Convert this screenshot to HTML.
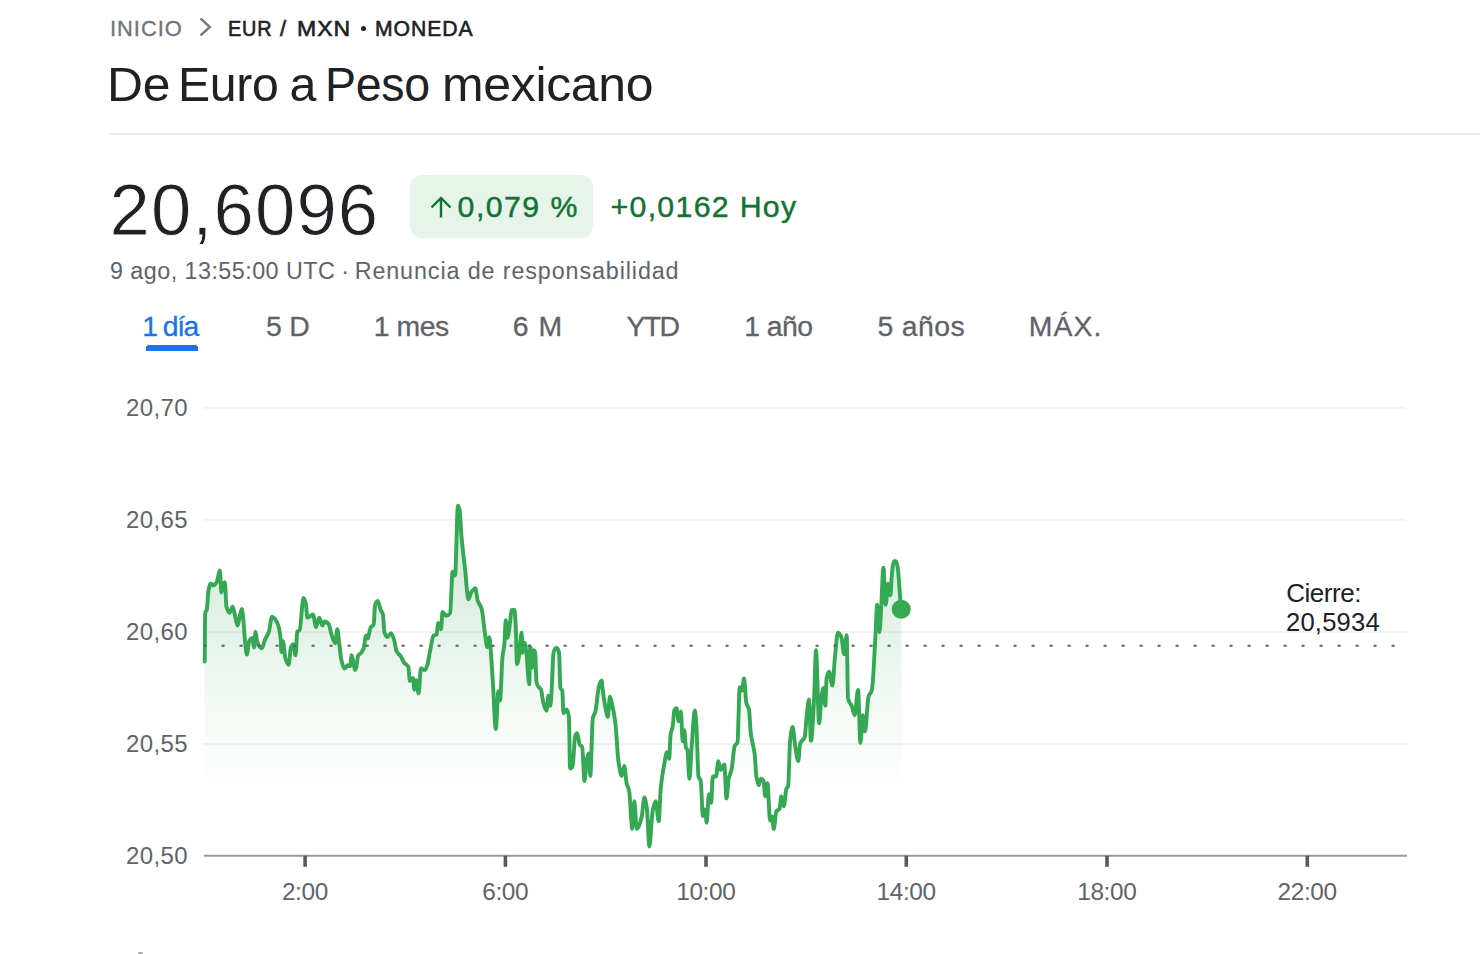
<!DOCTYPE html>
<html><head><meta charset="utf-8">
<style>
html,body{margin:0;padding:0;background:#fff;}
body{width:1480px;height:954px;position:relative;overflow:hidden;font-family:"Liberation Sans",sans-serif;}
.t{position:absolute;white-space:nowrap;line-height:1;}
</style></head><body>
<div class="t " style="left:109.5px;top:17.8px;font-size:21.8px;color:#70757a;letter-spacing:1.00px;-webkit-text-stroke:0.35px #70757a;transform:scaleX(1.0030);transform-origin:0 0;">INICIO</div>
<div class="t " style="left:228.2px;top:17.8px;font-size:21.8px;color:#202124;letter-spacing:1.00px;-webkit-text-stroke:0.6px #202124;transform:scaleX(0.9089);transform-origin:0 0;">EUR</div>
<div class="t " style="left:279.9px;top:17.8px;font-size:21.8px;color:#202124;letter-spacing:0.00px;-webkit-text-stroke:0.6px #202124;">/</div>
<div class="t " style="left:296.9px;top:17.8px;font-size:21.8px;color:#202124;letter-spacing:1.00px;-webkit-text-stroke:0.6px #202124;transform:scaleX(1.0542);transform-origin:0 0;">MXN</div>
<div class="t " style="left:374.5px;top:17.8px;font-size:21.8px;color:#202124;letter-spacing:1.00px;-webkit-text-stroke:0.6px #202124;transform:scaleX(0.9701);transform-origin:0 0;">MONEDA</div>
<div class="t " style="left:107.2px;top:59.9px;font-size:48.4px;color:#202124;letter-spacing:-0.30px;transform:scaleX(1.0291);transform-origin:0 0;">De</div>
<div class="t " style="left:178.4px;top:59.9px;font-size:48.4px;color:#202124;letter-spacing:-0.30px;transform:scaleX(0.9959);transform-origin:0 0;">Euro</div>
<div class="t " style="left:289.4px;top:59.9px;font-size:48.4px;color:#202124;letter-spacing:0.00px;">a</div>
<div class="t " style="left:325.2px;top:59.9px;font-size:48.4px;color:#202124;letter-spacing:-0.30px;transform:scaleX(0.9612);transform-origin:0 0;">Peso</div>
<div class="t " style="left:441.9px;top:59.9px;font-size:48.4px;color:#202124;letter-spacing:-0.30px;transform:scaleX(1.0320);transform-origin:0 0;">mexicano</div>
<div class="t " style="left:142.2px;top:311.8px;font-size:28.4px;color:#1a73e8;letter-spacing:-1.50px;-webkit-text-stroke:0.3px #1a73e8;">1 día</div>
<div class="t " style="left:265.9px;top:311.8px;font-size:28.4px;color:#5f6368;letter-spacing:-0.10px;-webkit-text-stroke:0.3px #5f6368;">5 D</div>
<div class="t " style="left:373.7px;top:311.8px;font-size:28.4px;color:#5f6368;letter-spacing:-0.45px;-webkit-text-stroke:0.3px #5f6368;">1 mes</div>
<div class="t " style="left:512.8px;top:311.8px;font-size:28.4px;color:#5f6368;letter-spacing:1.00px;-webkit-text-stroke:0.3px #5f6368;">6 M</div>
<div class="t " style="left:626.5px;top:311.8px;font-size:28.4px;color:#5f6368;letter-spacing:-1.70px;-webkit-text-stroke:0.3px #5f6368;">YTD</div>
<div class="t " style="left:744.2px;top:311.8px;font-size:28.4px;color:#5f6368;letter-spacing:-0.55px;-webkit-text-stroke:0.3px #5f6368;">1 año</div>
<div class="t " style="left:877.4px;top:311.8px;font-size:28.4px;color:#5f6368;letter-spacing:0.40px;-webkit-text-stroke:0.3px #5f6368;">5 años</div>
<div class="t " style="left:1028.8px;top:311.8px;font-size:28.4px;color:#5f6368;letter-spacing:1.07px;-webkit-text-stroke:0.3px #5f6368;">MÁX.</div>
<svg style="position:absolute;left:0;top:0" width="1480" height="954"><polyline points="201.2,19.2 209.8,27 201.2,34.8" fill="none" stroke="#76797c" stroke-width="2.4" stroke-linecap="round"/></svg>
<div style="position:absolute;left:360.6px;top:25.6px;width:5.2px;height:5.2px;border-radius:50%;background:#202124"></div>
<div style="position:absolute;left:110px;top:133px;width:1370px;height:2px;background:#e7e7eb"></div>
<div class="t " style="left:109.5px;top:174.3px;font-size:72.5px;color:#202124;letter-spacing:1.1px;-webkit-text-stroke:0.8px #fff;">20,6096</div>
<div style="position:absolute;left:410px;top:175px;width:183px;height:63px;border-radius:12px;background:#e6f4ea"></div>
<svg style="position:absolute;left:0;top:0" width="1480" height="954"><path d="M441,217.6 V198 M431.5,207.5 L441,198 L450.5,207.5" fill="none" stroke="#137333" stroke-width="2.4"/></svg>
<div class="t " style="left:457.6px;top:192.4px;font-size:30.3px;color:#137333;letter-spacing:1.45px;-webkit-text-stroke:0.45px #137333;">0,079 %</div>
<div class="t " style="left:610.5px;top:192.4px;font-size:30.3px;color:#137333;letter-spacing:1.3px;-webkit-text-stroke:0.45px #137333;">+0,0162 Hoy</div>
<div class="t " style="left:110.0px;top:259.6px;font-size:23.3px;color:#5f6368;letter-spacing:0.47px;">9 ago, 13:55:00 UTC</div>
<div class="t " style="left:341.3px;top:259.6px;font-size:23.3px;color:#5f6368;">·</div>
<div class="t " style="left:354.7px;top:259.6px;font-size:23.3px;color:#5f6368;letter-spacing:0.9px;">Renuncia de responsabilidad</div>
<div style="position:absolute;left:146px;top:345.2px;width:52px;height:5.6px;background:#1a73e8;border-radius:3px 3px 0 0"></div>
<svg style="position:absolute;left:0;top:0" width="1480" height="954"><defs><linearGradient id="gf" x1="0" y1="505" x2="0" y2="792" gradientUnits="userSpaceOnUse"><stop offset="0" stop-color="rgb(60,160,90)" stop-opacity="0.28"/><stop offset="0.296" stop-color="rgb(60,160,90)" stop-opacity="0.175"/><stop offset="0.679" stop-color="rgb(60,160,90)" stop-opacity="0.065"/><stop offset="1" stop-color="rgb(60,160,90)" stop-opacity="0"/></linearGradient></defs><line x1="203" y1="407.7" x2="1406" y2="407.7" stroke="#f2f2f2" stroke-width="2"/><line x1="203" y1="519.8" x2="1406" y2="519.8" stroke="#f2f2f2" stroke-width="2"/><line x1="203" y1="631.9" x2="1406" y2="631.9" stroke="#f2f2f2" stroke-width="2"/><line x1="203" y1="743.9" x2="1406" y2="743.9" stroke="#f2f2f2" stroke-width="2"/><path d="M204.7,661.6 C204.9,645.4 205.0,613.7 205.2,612.9 C205.7,610.4 206.3,611.5 206.8,609.7 C207.3,607.9 207.9,593.6 208.4,590.9 C209.2,587.0 209.9,583.8 210.7,583.8 C211.8,583.8 212.8,585.4 213.9,585.4 C214.9,585.4 216.0,583.4 217.0,581.4 C217.9,579.6 218.9,570.4 219.8,570.4 C220.3,570.4 220.9,592.5 221.4,592.5 C222.0,592.5 222.7,584.8 223.3,583.8 C223.8,582.9 224.4,582.2 224.9,582.2 C225.4,582.2 225.9,604.7 226.4,606.6 C227.5,610.7 228.5,612.9 229.6,612.9 C230.6,612.9 231.7,606.6 232.7,606.6 C233.5,606.6 234.3,612.9 235.1,616.0 C235.9,619.1 236.7,625.5 237.5,625.5 C238.3,625.5 239.0,618.8 239.8,616.0 C240.5,613.4 241.2,609.0 241.9,609.0 C242.3,609.0 242.6,613.0 243.0,616.0 C243.8,622.2 244.5,637.9 245.3,644.3 C245.8,648.7 246.4,654.6 246.9,654.6 C247.7,654.6 248.4,642.6 249.2,641.2 C250.3,639.3 251.3,638.0 252.4,638.0 C252.9,638.0 253.5,647.5 254.0,647.5 C254.5,647.5 255.0,631.8 255.5,631.8 C256.0,631.8 256.6,639.4 257.1,641.2 C257.9,643.9 258.7,645.8 259.5,646.7 C260.3,647.5 261.0,648.3 261.8,648.3 C262.9,648.3 263.9,642.1 265.0,639.6 C266.3,636.6 267.6,635.5 268.9,631.8 C269.9,628.8 271.0,616.8 272.0,616.8 C273.1,616.8 274.1,618.0 275.2,619.2 C276.2,620.3 277.3,622.3 278.3,625.5 C279.1,628.0 279.9,632.2 280.7,639.6 C281.0,642.1 281.2,652.2 281.5,652.2 C282.0,652.2 282.5,641.2 283.0,641.2 C283.8,641.2 284.6,656.0 285.4,658.5 C286.5,661.9 287.5,664.8 288.6,664.8 C289.4,664.8 290.1,649.2 290.9,647.5 C291.7,645.7 292.5,644.3 293.3,644.3 C294.1,644.3 294.8,655.3 295.6,655.3 C296.1,655.3 296.7,632.5 297.2,631.8 C298.0,630.7 298.8,631.1 299.6,630.2 C300.9,628.7 302.2,598.0 303.5,598.0 C304.3,598.0 305.0,600.5 305.8,603.5 C306.3,605.6 306.9,617.6 307.4,617.6 C308.5,617.6 309.5,616.6 310.6,616.0 C311.4,615.6 312.1,614.5 312.9,614.5 C314.0,614.5 315.0,627.0 316.1,627.0 C317.1,627.0 318.2,617.6 319.2,617.6 C320.3,617.6 321.3,625.5 322.4,625.5 C323.2,625.5 323.9,621.5 324.7,621.5 C326.1,621.5 327.5,622.7 328.9,624.5 C329.7,625.5 330.5,631.5 331.3,633.9 C332.6,637.9 333.9,643.3 335.2,643.3 C335.9,643.3 336.6,629.2 337.3,629.2 C337.9,629.2 338.6,638.6 339.2,643.3 C340.0,649.0 340.7,657.7 341.5,660.6 C342.6,664.7 343.6,668.5 344.7,668.5 C345.7,668.5 346.8,665.3 347.8,665.3 C348.6,665.3 349.4,666.1 350.2,666.1 C350.7,666.1 351.2,655.1 351.7,655.1 C352.2,655.1 352.8,659.7 353.3,662.2 C353.8,664.7 354.4,670.1 354.9,670.1 C355.4,670.1 355.9,668.5 356.4,666.9 C356.9,665.2 357.5,656.9 358.0,655.9 C359.1,653.9 360.1,654.1 361.2,652.8 C362.0,651.8 362.7,650.7 363.5,648.8 C364.4,646.5 365.3,635.5 366.2,635.5 C366.7,635.5 367.3,638.6 367.8,638.6 C368.7,638.6 369.7,629.1 370.6,627.6 C371.6,625.9 372.7,626.7 373.7,624.5 C374.1,623.6 374.6,607.1 375.0,605.6 C375.9,602.5 376.8,600.9 377.7,600.9 C378.7,600.9 379.8,608.0 380.8,610.3 C381.5,611.9 382.2,611.9 382.9,614.2 C383.4,615.9 383.9,630.9 384.4,632.3 C385.5,635.4 386.5,637.0 387.6,637.0 C388.7,637.0 389.9,633.1 391.0,633.1 C392.1,633.1 393.1,636.9 394.2,640.2 C395.0,642.6 395.7,649.7 396.5,651.2 C397.8,653.9 399.2,654.0 400.5,655.9 C401.8,657.8 403.1,661.3 404.4,663.0 C405.7,664.7 407.0,664.3 408.3,666.9 C408.8,668.0 409.4,681.1 409.9,681.1 C410.9,681.1 412.0,677.9 413.0,677.9 C413.4,677.9 413.9,689.7 414.3,689.7 C414.9,689.7 415.6,680.3 416.2,680.3 C417.0,680.3 417.8,693.6 418.6,693.6 C419.4,693.6 420.1,668.5 420.9,668.5 C422.2,668.5 423.5,670.1 424.8,670.1 C425.6,670.1 426.4,667.6 427.2,665.3 C428.2,662.4 429.3,654.5 430.3,649.6 C431.4,644.6 432.4,636.0 433.5,635.5 C434.5,635.0 435.6,635.3 436.6,634.7 C437.1,634.4 437.7,622.9 438.2,622.9 C439.1,622.9 440.1,629.2 441.0,629.2 C441.5,629.2 442.0,612.0 442.5,612.0 C443.8,612.0 445.0,615.8 446.3,615.8 C447.6,615.8 448.8,615.0 450.1,613.2 C450.9,612.0 451.8,571.7 452.6,571.7 C453.4,571.7 454.3,575.5 455.1,575.5 C456.0,575.5 457.0,505.6 457.9,505.6 C458.5,505.6 459.0,507.5 459.6,510.0 C460.2,512.6 460.8,528.4 461.4,535.3 C462.7,549.8 463.9,558.9 465.2,570.5 C466.3,580.3 467.3,599.4 468.4,599.4 C469.4,599.4 470.4,593.3 471.4,591.9 C472.3,590.7 473.1,590.2 474.0,589.3 C474.4,588.9 474.8,588.1 475.2,588.1 C476.0,588.1 476.9,598.3 477.7,600.7 C479.0,604.4 480.2,604.3 481.5,608.2 C482.8,612.1 484.0,627.9 485.3,635.9 C486.0,640.1 486.6,647.2 487.3,647.2 C487.9,647.2 488.5,637.1 489.1,637.1 C490.3,637.1 491.6,664.3 492.8,681.2 C493.8,694.9 494.8,729.0 495.8,729.0 C496.7,729.0 497.5,691.2 498.4,691.2 C498.9,691.2 499.5,700.6 500.0,700.6 C500.8,700.6 501.7,664.5 502.5,656.6 C503.1,650.6 503.8,650.4 504.4,644.0 C504.8,639.6 505.3,620.1 505.7,620.1 C506.3,620.1 506.9,637.7 507.5,637.7 C508.1,637.7 508.8,631.5 509.4,627.7 C510.2,622.7 511.1,610.0 511.9,610.0 C512.8,610.0 513.6,610.0 514.5,610.0 C514.9,610.0 515.3,618.1 515.7,625.2 C516.1,632.9 516.6,664.2 517.0,664.2 C517.6,664.2 518.3,660.0 518.9,656.6 C519.8,651.7 520.7,632.7 521.6,632.7 C521.9,632.7 522.3,652.8 522.6,652.8 C523.2,652.8 523.9,642.8 524.5,642.8 C525.1,642.8 525.8,648.4 526.4,652.8 C527.3,659.3 528.3,684.3 529.2,684.3 C529.5,684.3 529.9,646.5 530.2,646.5 C530.8,646.5 531.5,667.9 532.1,667.9 C532.6,667.9 533.2,650.3 533.7,650.3 C534.2,650.3 534.7,651.2 535.2,652.8 C535.6,654.2 536.1,679.7 536.5,681.8 C537.1,684.9 537.8,685.9 538.4,686.8 C539.2,688.0 540.1,687.9 540.9,689.3 C541.7,690.7 542.6,700.2 543.4,703.1 C544.4,706.7 545.5,710.7 546.5,710.7 C547.1,710.7 547.8,695.6 548.4,695.6 C549.0,695.6 549.7,705.7 550.3,705.7 C550.7,705.7 551.2,696.9 551.6,690.6 C552.2,681.5 552.9,654.8 553.5,652.8 C554.5,649.5 555.6,647.8 556.6,647.8 C557.4,647.8 558.3,649.4 559.1,652.8 C559.5,654.6 560.0,686.8 560.4,688.0 C561.0,689.7 561.7,688.9 562.3,690.6 C562.7,691.7 563.1,713.2 563.5,713.2 C564.6,713.2 565.6,709.4 566.7,709.4 C567.4,709.4 568.2,711.9 568.9,717.0 C569.3,719.8 569.7,768.5 570.1,768.5 C570.9,768.5 571.8,767.5 572.6,766.0 C573.5,764.4 574.3,737.7 575.2,735.8 C575.9,734.3 576.5,733.3 577.2,733.3 C578.0,733.3 578.9,743.2 579.7,744.6 C580.5,746.0 581.4,745.5 582.2,747.1 C583.0,748.6 583.7,781.1 584.5,781.1 C585.3,781.1 586.2,761.6 587.0,758.4 C587.7,755.8 588.3,753.4 589.0,753.4 C589.4,753.4 589.9,776.0 590.3,776.0 C591.1,776.0 592.0,722.0 592.8,718.2 C593.6,714.4 594.5,714.9 595.3,711.9 C596.6,707.4 597.8,689.4 599.1,685.5 C599.9,683.0 600.8,680.4 601.6,680.4 C602.0,680.4 602.4,687.5 602.8,690.5 C603.6,696.7 604.5,702.9 605.3,706.9 C606.2,711.1 607.0,716.9 607.9,716.9 C608.6,716.9 609.2,696.8 609.9,696.8 C610.7,696.8 611.6,702.0 612.4,705.6 C613.4,710.0 614.4,715.2 615.4,723.2 C616.4,731.2 617.4,754.3 618.4,761.0 C619.5,768.4 620.6,776.0 621.7,776.0 C622.5,776.0 623.4,766.0 624.2,766.0 C625.0,766.0 625.9,780.1 626.7,783.6 C627.5,787.1 628.4,787.2 629.2,791.1 C630.2,796.0 631.3,828.9 632.3,828.9 C633.0,828.9 633.6,801.2 634.3,801.2 C635.1,801.2 636.0,828.9 636.8,828.9 C638.5,828.9 640.1,823.0 641.8,816.3 C642.6,813.0 643.5,797.4 644.3,797.4 C645.2,797.4 646.0,802.8 646.9,808.7 C647.7,814.3 648.6,846.5 649.4,846.5 C650.5,846.5 651.5,816.6 652.6,811.3 C653.6,806.1 654.7,801.2 655.7,801.2 C656.7,801.2 657.7,821.3 658.7,821.3 C659.4,821.3 660.0,795.3 660.7,788.6 C661.9,776.2 663.2,769.7 664.4,763.3 C665.3,758.8 666.1,752.3 667.0,752.3 C667.7,752.3 668.5,758.9 669.2,758.9 C669.7,758.9 670.1,737.9 670.6,734.7 C671.3,729.7 672.1,730.2 672.8,725.8 C673.3,722.8 673.8,711.4 674.3,710.4 C675.0,709.0 675.8,708.2 676.5,708.2 C677.2,708.2 678.0,721.4 678.7,721.4 C679.4,721.4 680.2,711.5 680.9,711.5 C681.5,711.5 682.1,741.3 682.7,741.3 C683.2,741.3 683.7,730.2 684.2,730.2 C684.8,730.2 685.4,746.4 686.0,747.9 C686.5,749.1 687.0,748.8 687.5,750.1 C688.1,751.7 688.7,778.7 689.3,778.7 C690.2,778.7 691.0,754.3 691.9,743.5 C692.9,731.5 693.8,710.4 694.8,710.4 C695.3,710.4 695.8,717.3 696.3,723.6 C697.0,732.8 697.8,773.8 698.5,776.5 C699.2,779.2 700.0,778.3 700.7,780.9 C701.4,783.5 702.2,816.1 702.9,816.1 C703.6,816.1 704.4,809.5 705.1,809.5 C705.6,809.5 706.2,822.7 706.7,822.7 C707.4,822.7 708.2,794.1 708.9,794.1 C709.6,794.1 710.4,802.9 711.1,802.9 C711.7,802.9 712.2,776.5 712.8,776.5 C713.9,776.5 715.0,776.5 716.1,776.5 C716.8,776.5 717.6,761.1 718.3,761.1 C719.0,761.1 719.8,769.9 720.5,769.9 C721.8,769.9 723.0,764.4 724.3,764.4 C725.0,764.4 725.8,798.5 726.5,798.5 C727.2,798.5 728.0,782.2 728.7,778.7 C729.6,774.3 730.6,774.0 731.5,769.9 C732.6,765.1 733.7,748.0 734.8,745.7 C735.7,743.9 736.6,744.6 737.5,742.4 C738.2,740.6 739.0,687.3 739.7,687.3 C740.4,687.3 741.2,690.6 741.9,690.6 C742.6,690.6 743.4,678.5 744.1,678.5 C744.8,678.5 745.6,699.4 746.3,702.7 C747.2,706.9 748.2,705.8 749.1,710.4 C749.6,713.0 750.2,728.0 750.7,732.5 C752.0,743.7 753.4,743.6 754.7,754.5 C755.3,759.1 755.8,773.0 756.4,776.5 C757.1,781.1 757.9,785.3 758.6,785.3 C759.3,785.3 760.1,778.7 760.8,778.7 C761.7,778.7 762.6,779.5 763.5,780.9 C764.1,781.8 764.6,796.3 765.2,796.3 C765.9,796.3 766.7,783.1 767.4,783.1 C768.3,783.1 769.2,820.5 770.1,820.5 C770.7,820.5 771.4,816.4 772.0,816.4 C772.6,816.4 773.2,828.9 773.8,828.9 C774.6,828.9 775.5,812.5 776.3,811.3 C777.4,809.7 778.5,810.5 779.6,808.8 C780.2,807.9 780.7,796.2 781.3,796.2 C782.1,796.2 783.0,806.3 783.8,806.3 C784.7,806.3 785.5,790.7 786.4,788.7 C787.0,787.4 787.5,787.7 788.1,786.2 C788.8,784.4 789.4,747.0 790.1,740.9 C790.9,733.3 791.8,727.0 792.6,727.0 C793.5,727.0 794.3,740.7 795.2,745.9 C796.2,751.9 797.2,761.0 798.2,761.0 C798.9,761.0 799.5,745.2 800.2,743.4 C801.7,739.4 803.2,741.3 804.7,737.1 C805.3,735.4 805.9,723.5 806.5,718.2 C807.3,710.8 808.2,699.4 809.0,699.4 C809.7,699.4 810.3,740.9 811.0,740.9 C812.0,740.9 813.0,718.5 814.0,700.6 C814.7,688.7 815.3,650.3 816.0,650.3 C817.0,650.3 818.1,723.3 819.1,723.3 C819.9,723.3 820.8,700.2 821.6,695.6 C822.3,691.9 822.9,688.0 823.6,688.0 C824.2,688.0 824.7,705.7 825.3,705.7 C825.7,705.7 826.2,680.1 826.6,678.0 C827.4,673.9 828.3,671.7 829.1,671.7 C830.2,671.7 831.3,685.5 832.4,685.5 C833.2,685.5 834.1,665.9 834.9,657.9 C835.9,648.3 836.9,632.7 837.9,632.7 C839.0,632.7 840.1,634.4 841.2,636.5 C842.2,638.4 843.2,654.1 844.2,654.1 C845.0,654.1 845.9,635.2 846.7,635.2 C847.1,635.2 847.6,696.0 848.0,698.1 C849.3,704.1 850.5,702.8 851.8,706.1 C852.7,708.5 853.7,715.3 854.6,715.3 C855.8,715.3 856.9,689.9 858.1,689.9 C858.9,689.9 859.6,743.0 860.4,743.0 C861.2,743.0 861.9,715.3 862.7,715.3 C863.5,715.3 864.2,731.4 865.0,731.4 C866.2,731.4 867.3,700.7 868.5,696.8 C869.6,693.0 870.8,693.9 871.9,689.9 C873.1,685.7 874.2,656.2 875.4,636.9 C876.0,627.0 876.6,604.6 877.2,604.6 C878.0,604.6 878.7,632.3 879.5,632.3 C880.0,632.3 880.6,617.7 881.1,609.2 C881.9,597.0 882.6,567.7 883.4,567.7 C884.2,567.7 884.9,604.6 885.7,604.6 C886.5,604.6 887.3,583.8 888.1,583.8 C888.9,583.8 889.6,595.4 890.4,595.4 C890.8,595.4 891.2,582.7 891.6,578.0 C892.0,573.3 892.4,568.0 892.8,566.0 C893.3,563.5 893.8,561.0 894.3,561.0 C894.9,561.0 895.4,561.2 896.0,561.5 C896.5,561.8 897.1,564.2 897.6,567.0 C898.0,569.3 898.5,575.0 898.9,580.0 C899.3,584.2 899.6,589.9 900.0,595.0 C900.3,599.6 900.7,604.5 901.0,609.2 L901.5,609.2 L901.5,850 L204.7,850 Z" fill="url(#gf)"/><path d="M204.7,661.6 C204.9,645.4 205.0,613.7 205.2,612.9 C205.7,610.4 206.3,611.5 206.8,609.7 C207.3,607.9 207.9,593.6 208.4,590.9 C209.2,587.0 209.9,583.8 210.7,583.8 C211.8,583.8 212.8,585.4 213.9,585.4 C214.9,585.4 216.0,583.4 217.0,581.4 C217.9,579.6 218.9,570.4 219.8,570.4 C220.3,570.4 220.9,592.5 221.4,592.5 C222.0,592.5 222.7,584.8 223.3,583.8 C223.8,582.9 224.4,582.2 224.9,582.2 C225.4,582.2 225.9,604.7 226.4,606.6 C227.5,610.7 228.5,612.9 229.6,612.9 C230.6,612.9 231.7,606.6 232.7,606.6 C233.5,606.6 234.3,612.9 235.1,616.0 C235.9,619.1 236.7,625.5 237.5,625.5 C238.3,625.5 239.0,618.8 239.8,616.0 C240.5,613.4 241.2,609.0 241.9,609.0 C242.3,609.0 242.6,613.0 243.0,616.0 C243.8,622.2 244.5,637.9 245.3,644.3 C245.8,648.7 246.4,654.6 246.9,654.6 C247.7,654.6 248.4,642.6 249.2,641.2 C250.3,639.3 251.3,638.0 252.4,638.0 C252.9,638.0 253.5,647.5 254.0,647.5 C254.5,647.5 255.0,631.8 255.5,631.8 C256.0,631.8 256.6,639.4 257.1,641.2 C257.9,643.9 258.7,645.8 259.5,646.7 C260.3,647.5 261.0,648.3 261.8,648.3 C262.9,648.3 263.9,642.1 265.0,639.6 C266.3,636.6 267.6,635.5 268.9,631.8 C269.9,628.8 271.0,616.8 272.0,616.8 C273.1,616.8 274.1,618.0 275.2,619.2 C276.2,620.3 277.3,622.3 278.3,625.5 C279.1,628.0 279.9,632.2 280.7,639.6 C281.0,642.1 281.2,652.2 281.5,652.2 C282.0,652.2 282.5,641.2 283.0,641.2 C283.8,641.2 284.6,656.0 285.4,658.5 C286.5,661.9 287.5,664.8 288.6,664.8 C289.4,664.8 290.1,649.2 290.9,647.5 C291.7,645.7 292.5,644.3 293.3,644.3 C294.1,644.3 294.8,655.3 295.6,655.3 C296.1,655.3 296.7,632.5 297.2,631.8 C298.0,630.7 298.8,631.1 299.6,630.2 C300.9,628.7 302.2,598.0 303.5,598.0 C304.3,598.0 305.0,600.5 305.8,603.5 C306.3,605.6 306.9,617.6 307.4,617.6 C308.5,617.6 309.5,616.6 310.6,616.0 C311.4,615.6 312.1,614.5 312.9,614.5 C314.0,614.5 315.0,627.0 316.1,627.0 C317.1,627.0 318.2,617.6 319.2,617.6 C320.3,617.6 321.3,625.5 322.4,625.5 C323.2,625.5 323.9,621.5 324.7,621.5 C326.1,621.5 327.5,622.7 328.9,624.5 C329.7,625.5 330.5,631.5 331.3,633.9 C332.6,637.9 333.9,643.3 335.2,643.3 C335.9,643.3 336.6,629.2 337.3,629.2 C337.9,629.2 338.6,638.6 339.2,643.3 C340.0,649.0 340.7,657.7 341.5,660.6 C342.6,664.7 343.6,668.5 344.7,668.5 C345.7,668.5 346.8,665.3 347.8,665.3 C348.6,665.3 349.4,666.1 350.2,666.1 C350.7,666.1 351.2,655.1 351.7,655.1 C352.2,655.1 352.8,659.7 353.3,662.2 C353.8,664.7 354.4,670.1 354.9,670.1 C355.4,670.1 355.9,668.5 356.4,666.9 C356.9,665.2 357.5,656.9 358.0,655.9 C359.1,653.9 360.1,654.1 361.2,652.8 C362.0,651.8 362.7,650.7 363.5,648.8 C364.4,646.5 365.3,635.5 366.2,635.5 C366.7,635.5 367.3,638.6 367.8,638.6 C368.7,638.6 369.7,629.1 370.6,627.6 C371.6,625.9 372.7,626.7 373.7,624.5 C374.1,623.6 374.6,607.1 375.0,605.6 C375.9,602.5 376.8,600.9 377.7,600.9 C378.7,600.9 379.8,608.0 380.8,610.3 C381.5,611.9 382.2,611.9 382.9,614.2 C383.4,615.9 383.9,630.9 384.4,632.3 C385.5,635.4 386.5,637.0 387.6,637.0 C388.7,637.0 389.9,633.1 391.0,633.1 C392.1,633.1 393.1,636.9 394.2,640.2 C395.0,642.6 395.7,649.7 396.5,651.2 C397.8,653.9 399.2,654.0 400.5,655.9 C401.8,657.8 403.1,661.3 404.4,663.0 C405.7,664.7 407.0,664.3 408.3,666.9 C408.8,668.0 409.4,681.1 409.9,681.1 C410.9,681.1 412.0,677.9 413.0,677.9 C413.4,677.9 413.9,689.7 414.3,689.7 C414.9,689.7 415.6,680.3 416.2,680.3 C417.0,680.3 417.8,693.6 418.6,693.6 C419.4,693.6 420.1,668.5 420.9,668.5 C422.2,668.5 423.5,670.1 424.8,670.1 C425.6,670.1 426.4,667.6 427.2,665.3 C428.2,662.4 429.3,654.5 430.3,649.6 C431.4,644.6 432.4,636.0 433.5,635.5 C434.5,635.0 435.6,635.3 436.6,634.7 C437.1,634.4 437.7,622.9 438.2,622.9 C439.1,622.9 440.1,629.2 441.0,629.2 C441.5,629.2 442.0,612.0 442.5,612.0 C443.8,612.0 445.0,615.8 446.3,615.8 C447.6,615.8 448.8,615.0 450.1,613.2 C450.9,612.0 451.8,571.7 452.6,571.7 C453.4,571.7 454.3,575.5 455.1,575.5 C456.0,575.5 457.0,505.6 457.9,505.6 C458.5,505.6 459.0,507.5 459.6,510.0 C460.2,512.6 460.8,528.4 461.4,535.3 C462.7,549.8 463.9,558.9 465.2,570.5 C466.3,580.3 467.3,599.4 468.4,599.4 C469.4,599.4 470.4,593.3 471.4,591.9 C472.3,590.7 473.1,590.2 474.0,589.3 C474.4,588.9 474.8,588.1 475.2,588.1 C476.0,588.1 476.9,598.3 477.7,600.7 C479.0,604.4 480.2,604.3 481.5,608.2 C482.8,612.1 484.0,627.9 485.3,635.9 C486.0,640.1 486.6,647.2 487.3,647.2 C487.9,647.2 488.5,637.1 489.1,637.1 C490.3,637.1 491.6,664.3 492.8,681.2 C493.8,694.9 494.8,729.0 495.8,729.0 C496.7,729.0 497.5,691.2 498.4,691.2 C498.9,691.2 499.5,700.6 500.0,700.6 C500.8,700.6 501.7,664.5 502.5,656.6 C503.1,650.6 503.8,650.4 504.4,644.0 C504.8,639.6 505.3,620.1 505.7,620.1 C506.3,620.1 506.9,637.7 507.5,637.7 C508.1,637.7 508.8,631.5 509.4,627.7 C510.2,622.7 511.1,610.0 511.9,610.0 C512.8,610.0 513.6,610.0 514.5,610.0 C514.9,610.0 515.3,618.1 515.7,625.2 C516.1,632.9 516.6,664.2 517.0,664.2 C517.6,664.2 518.3,660.0 518.9,656.6 C519.8,651.7 520.7,632.7 521.6,632.7 C521.9,632.7 522.3,652.8 522.6,652.8 C523.2,652.8 523.9,642.8 524.5,642.8 C525.1,642.8 525.8,648.4 526.4,652.8 C527.3,659.3 528.3,684.3 529.2,684.3 C529.5,684.3 529.9,646.5 530.2,646.5 C530.8,646.5 531.5,667.9 532.1,667.9 C532.6,667.9 533.2,650.3 533.7,650.3 C534.2,650.3 534.7,651.2 535.2,652.8 C535.6,654.2 536.1,679.7 536.5,681.8 C537.1,684.9 537.8,685.9 538.4,686.8 C539.2,688.0 540.1,687.9 540.9,689.3 C541.7,690.7 542.6,700.2 543.4,703.1 C544.4,706.7 545.5,710.7 546.5,710.7 C547.1,710.7 547.8,695.6 548.4,695.6 C549.0,695.6 549.7,705.7 550.3,705.7 C550.7,705.7 551.2,696.9 551.6,690.6 C552.2,681.5 552.9,654.8 553.5,652.8 C554.5,649.5 555.6,647.8 556.6,647.8 C557.4,647.8 558.3,649.4 559.1,652.8 C559.5,654.6 560.0,686.8 560.4,688.0 C561.0,689.7 561.7,688.9 562.3,690.6 C562.7,691.7 563.1,713.2 563.5,713.2 C564.6,713.2 565.6,709.4 566.7,709.4 C567.4,709.4 568.2,711.9 568.9,717.0 C569.3,719.8 569.7,768.5 570.1,768.5 C570.9,768.5 571.8,767.5 572.6,766.0 C573.5,764.4 574.3,737.7 575.2,735.8 C575.9,734.3 576.5,733.3 577.2,733.3 C578.0,733.3 578.9,743.2 579.7,744.6 C580.5,746.0 581.4,745.5 582.2,747.1 C583.0,748.6 583.7,781.1 584.5,781.1 C585.3,781.1 586.2,761.6 587.0,758.4 C587.7,755.8 588.3,753.4 589.0,753.4 C589.4,753.4 589.9,776.0 590.3,776.0 C591.1,776.0 592.0,722.0 592.8,718.2 C593.6,714.4 594.5,714.9 595.3,711.9 C596.6,707.4 597.8,689.4 599.1,685.5 C599.9,683.0 600.8,680.4 601.6,680.4 C602.0,680.4 602.4,687.5 602.8,690.5 C603.6,696.7 604.5,702.9 605.3,706.9 C606.2,711.1 607.0,716.9 607.9,716.9 C608.6,716.9 609.2,696.8 609.9,696.8 C610.7,696.8 611.6,702.0 612.4,705.6 C613.4,710.0 614.4,715.2 615.4,723.2 C616.4,731.2 617.4,754.3 618.4,761.0 C619.5,768.4 620.6,776.0 621.7,776.0 C622.5,776.0 623.4,766.0 624.2,766.0 C625.0,766.0 625.9,780.1 626.7,783.6 C627.5,787.1 628.4,787.2 629.2,791.1 C630.2,796.0 631.3,828.9 632.3,828.9 C633.0,828.9 633.6,801.2 634.3,801.2 C635.1,801.2 636.0,828.9 636.8,828.9 C638.5,828.9 640.1,823.0 641.8,816.3 C642.6,813.0 643.5,797.4 644.3,797.4 C645.2,797.4 646.0,802.8 646.9,808.7 C647.7,814.3 648.6,846.5 649.4,846.5 C650.5,846.5 651.5,816.6 652.6,811.3 C653.6,806.1 654.7,801.2 655.7,801.2 C656.7,801.2 657.7,821.3 658.7,821.3 C659.4,821.3 660.0,795.3 660.7,788.6 C661.9,776.2 663.2,769.7 664.4,763.3 C665.3,758.8 666.1,752.3 667.0,752.3 C667.7,752.3 668.5,758.9 669.2,758.9 C669.7,758.9 670.1,737.9 670.6,734.7 C671.3,729.7 672.1,730.2 672.8,725.8 C673.3,722.8 673.8,711.4 674.3,710.4 C675.0,709.0 675.8,708.2 676.5,708.2 C677.2,708.2 678.0,721.4 678.7,721.4 C679.4,721.4 680.2,711.5 680.9,711.5 C681.5,711.5 682.1,741.3 682.7,741.3 C683.2,741.3 683.7,730.2 684.2,730.2 C684.8,730.2 685.4,746.4 686.0,747.9 C686.5,749.1 687.0,748.8 687.5,750.1 C688.1,751.7 688.7,778.7 689.3,778.7 C690.2,778.7 691.0,754.3 691.9,743.5 C692.9,731.5 693.8,710.4 694.8,710.4 C695.3,710.4 695.8,717.3 696.3,723.6 C697.0,732.8 697.8,773.8 698.5,776.5 C699.2,779.2 700.0,778.3 700.7,780.9 C701.4,783.5 702.2,816.1 702.9,816.1 C703.6,816.1 704.4,809.5 705.1,809.5 C705.6,809.5 706.2,822.7 706.7,822.7 C707.4,822.7 708.2,794.1 708.9,794.1 C709.6,794.1 710.4,802.9 711.1,802.9 C711.7,802.9 712.2,776.5 712.8,776.5 C713.9,776.5 715.0,776.5 716.1,776.5 C716.8,776.5 717.6,761.1 718.3,761.1 C719.0,761.1 719.8,769.9 720.5,769.9 C721.8,769.9 723.0,764.4 724.3,764.4 C725.0,764.4 725.8,798.5 726.5,798.5 C727.2,798.5 728.0,782.2 728.7,778.7 C729.6,774.3 730.6,774.0 731.5,769.9 C732.6,765.1 733.7,748.0 734.8,745.7 C735.7,743.9 736.6,744.6 737.5,742.4 C738.2,740.6 739.0,687.3 739.7,687.3 C740.4,687.3 741.2,690.6 741.9,690.6 C742.6,690.6 743.4,678.5 744.1,678.5 C744.8,678.5 745.6,699.4 746.3,702.7 C747.2,706.9 748.2,705.8 749.1,710.4 C749.6,713.0 750.2,728.0 750.7,732.5 C752.0,743.7 753.4,743.6 754.7,754.5 C755.3,759.1 755.8,773.0 756.4,776.5 C757.1,781.1 757.9,785.3 758.6,785.3 C759.3,785.3 760.1,778.7 760.8,778.7 C761.7,778.7 762.6,779.5 763.5,780.9 C764.1,781.8 764.6,796.3 765.2,796.3 C765.9,796.3 766.7,783.1 767.4,783.1 C768.3,783.1 769.2,820.5 770.1,820.5 C770.7,820.5 771.4,816.4 772.0,816.4 C772.6,816.4 773.2,828.9 773.8,828.9 C774.6,828.9 775.5,812.5 776.3,811.3 C777.4,809.7 778.5,810.5 779.6,808.8 C780.2,807.9 780.7,796.2 781.3,796.2 C782.1,796.2 783.0,806.3 783.8,806.3 C784.7,806.3 785.5,790.7 786.4,788.7 C787.0,787.4 787.5,787.7 788.1,786.2 C788.8,784.4 789.4,747.0 790.1,740.9 C790.9,733.3 791.8,727.0 792.6,727.0 C793.5,727.0 794.3,740.7 795.2,745.9 C796.2,751.9 797.2,761.0 798.2,761.0 C798.9,761.0 799.5,745.2 800.2,743.4 C801.7,739.4 803.2,741.3 804.7,737.1 C805.3,735.4 805.9,723.5 806.5,718.2 C807.3,710.8 808.2,699.4 809.0,699.4 C809.7,699.4 810.3,740.9 811.0,740.9 C812.0,740.9 813.0,718.5 814.0,700.6 C814.7,688.7 815.3,650.3 816.0,650.3 C817.0,650.3 818.1,723.3 819.1,723.3 C819.9,723.3 820.8,700.2 821.6,695.6 C822.3,691.9 822.9,688.0 823.6,688.0 C824.2,688.0 824.7,705.7 825.3,705.7 C825.7,705.7 826.2,680.1 826.6,678.0 C827.4,673.9 828.3,671.7 829.1,671.7 C830.2,671.7 831.3,685.5 832.4,685.5 C833.2,685.5 834.1,665.9 834.9,657.9 C835.9,648.3 836.9,632.7 837.9,632.7 C839.0,632.7 840.1,634.4 841.2,636.5 C842.2,638.4 843.2,654.1 844.2,654.1 C845.0,654.1 845.9,635.2 846.7,635.2 C847.1,635.2 847.6,696.0 848.0,698.1 C849.3,704.1 850.5,702.8 851.8,706.1 C852.7,708.5 853.7,715.3 854.6,715.3 C855.8,715.3 856.9,689.9 858.1,689.9 C858.9,689.9 859.6,743.0 860.4,743.0 C861.2,743.0 861.9,715.3 862.7,715.3 C863.5,715.3 864.2,731.4 865.0,731.4 C866.2,731.4 867.3,700.7 868.5,696.8 C869.6,693.0 870.8,693.9 871.9,689.9 C873.1,685.7 874.2,656.2 875.4,636.9 C876.0,627.0 876.6,604.6 877.2,604.6 C878.0,604.6 878.7,632.3 879.5,632.3 C880.0,632.3 880.6,617.7 881.1,609.2 C881.9,597.0 882.6,567.7 883.4,567.7 C884.2,567.7 884.9,604.6 885.7,604.6 C886.5,604.6 887.3,583.8 888.1,583.8 C888.9,583.8 889.6,595.4 890.4,595.4 C890.8,595.4 891.2,582.7 891.6,578.0 C892.0,573.3 892.4,568.0 892.8,566.0 C893.3,563.5 893.8,561.0 894.3,561.0 C894.9,561.0 895.4,561.2 896.0,561.5 C896.5,561.8 897.1,564.2 897.6,567.0 C898.0,569.3 898.5,575.0 898.9,580.0 C899.3,584.2 899.6,589.9 900.0,595.0 C900.3,599.6 900.7,604.5 901.0,609.2" fill="none" stroke="#34a853" stroke-width="3.9" stroke-linejoin="round" stroke-linecap="round"/><line x1="203.6" y1="645.7" x2="1400" y2="645.7" stroke="#5c5c5c" stroke-width="2" stroke-dasharray="3 15"/><circle cx="901.2" cy="609.2" r="9.5" fill="#34a853"/><line x1="204" y1="855.8" x2="1407" y2="855.8" stroke="#9a9a9a" stroke-width="2"/><rect x="303.3" y="855.8" width="3.6" height="11" fill="#595959"/><rect x="503.6" y="855.8" width="3.6" height="11" fill="#595959"/><rect x="704.2" y="855.8" width="3.6" height="11" fill="#595959"/><rect x="904.5" y="855.8" width="3.6" height="11" fill="#595959"/><rect x="1105.2" y="855.8" width="3.6" height="11" fill="#595959"/><rect x="1305.5" y="855.8" width="3.6" height="11" fill="#595959"/></svg>
<div class="t " style="left:126.0px;top:396.1px;font-size:24px;color:#5f6368;letter-spacing:0.4px;">20,70</div>
<div class="t " style="left:126.0px;top:508.2px;font-size:24px;color:#5f6368;letter-spacing:0.4px;">20,65</div>
<div class="t " style="left:126.0px;top:620.3px;font-size:24px;color:#5f6368;letter-spacing:0.4px;">20,60</div>
<div class="t " style="left:126.0px;top:732.3px;font-size:24px;color:#5f6368;letter-spacing:0.4px;">20,55</div>
<div class="t " style="left:126.0px;top:844.2px;font-size:24px;color:#5f6368;letter-spacing:0.4px;">20,50</div>
<div class="t" style="left:245.1px;width:120px;text-align:center;top:879.8px;font-size:24.4px;letter-spacing:-0.4px;text-indent:-0.4px;color:#5f6368">2:00</div>
<div class="t" style="left:445.4px;width:120px;text-align:center;top:879.8px;font-size:24.4px;letter-spacing:-0.4px;text-indent:-0.4px;color:#5f6368">6:00</div>
<div class="t" style="left:646.0px;width:120px;text-align:center;top:879.8px;font-size:24.4px;letter-spacing:-0.4px;text-indent:-0.4px;color:#5f6368">10:00</div>
<div class="t" style="left:846.3px;width:120px;text-align:center;top:879.8px;font-size:24.4px;letter-spacing:-0.4px;text-indent:-0.4px;color:#5f6368">14:00</div>
<div class="t" style="left:1047.0px;width:120px;text-align:center;top:879.8px;font-size:24.4px;letter-spacing:-0.4px;text-indent:-0.4px;color:#5f6368">18:00</div>
<div class="t" style="left:1247.3px;width:120px;text-align:center;top:879.8px;font-size:24.4px;letter-spacing:-0.4px;text-indent:-0.4px;color:#5f6368">22:00</div>
<div class="t " style="left:1286.2px;top:580.0px;font-size:26px;color:#202124;letter-spacing:-0.45px;">Cierre:</div>
<div class="t " style="left:1286.0px;top:610.3px;font-size:25.6px;color:#202124;letter-spacing:0.2px;">20,5934</div>
<div style="position:absolute;left:137.8px;top:952.3px;width:5px;height:2px;background:#a4a6ab;border-radius:2px 2px 0 0"></div>
</body></html>
